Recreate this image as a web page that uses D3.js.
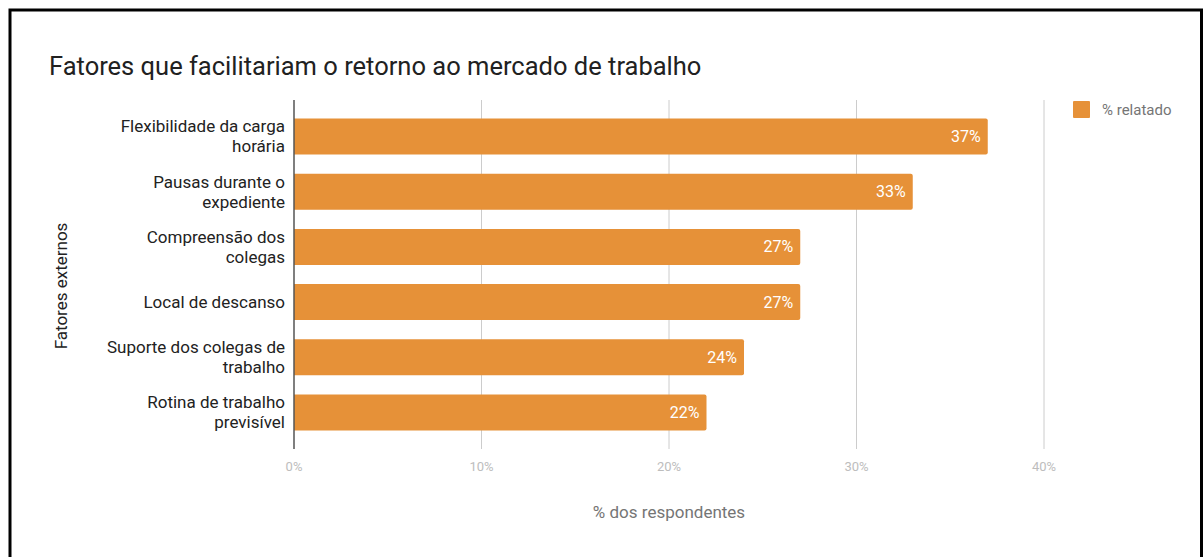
<!DOCTYPE html>
<html>
<head>
<meta charset="utf-8">
<script src="https://cdn.jsdelivr.net/npm/d3@7"></script>
<style>
  body { margin: 0; background: #fff; }
  text { font-family: Roboto, "Noto Sans", sans-serif; }
</style>
</head>
<body>
<svg id="chart"></svg>
<script>
const categories = [
  ["Flexibilidade da carga", "horária"],
  ["Pausas durante o", "expediente"],
  ["Compreensão dos", "colegas"],
  ["Local de descanso"],
  ["Suporte dos colegas de", "trabalho"],
  ["Rotina de trabalho", "previsível"]
];
const values = [37, 33, 27, 27, 24, 22];
const tickValues = [0, 10, 20, 30, 40];

const W = 1203, H = 557;
const svg = d3.select("#chart").attr("width", W).attr("height", H);

// frame
svg.append("path")
  .attr("d", "M10,557 L10,10 L1201.5,10 L1201.5,557")
  .attr("fill", "none")
  .attr("stroke", "#000")
  .attr("stroke-width", 3);

const x = d3.scaleLinear().domain([0, 40]).range([294, 1044]);
const y = d3.scaleBand()
  .domain(d3.range(categories.length))
  .range([100, 449])
  .paddingInner(0.348)
  .paddingOuter(0.335);

// title
svg.append("text")
  .attr("x", 49).attr("y", 75)
  .attr("fill", "#212121")
  .style("font-size", "25.5px")
  .text("Fatores que facilitariam o retorno ao mercado de trabalho");

// grid
svg.append("g").selectAll("line")
  .data(tickValues.slice(1))
  .join("line")
    .attr("x1", d => x(d)).attr("x2", d => x(d))
    .attr("y1", 100).attr("y2", 449)
    .attr("stroke", "#cccccc").attr("stroke-width", 1);

// bars
const bars = svg.append("g");
bars.selectAll("path")
  .data(values)
  .join("path")
    .attr("fill", "#e69138")
    .attr("d", (d, i) => {
      const x0 = x(0), x1 = x(d), y0 = y(i), h = y.bandwidth(), r = 2;
      return `M${x0},${y0} H${x1 - r} Q${x1},${y0} ${x1},${y0 + r} V${y0 + h - r} Q${x1},${y0 + h} ${x1 - r},${y0 + h} H${x0} Z`;
    });

bars.selectAll("text")
  .data(values)
  .join("text")
    .attr("x", d => x(d) - 7)
    .attr("y", (d, i) => y(i) + y.bandwidth() / 2)
    .attr("dy", "0.35em")
    .attr("text-anchor", "end")
    .attr("fill", "#fff")
    .style("font-size", "16px")
    .text(d => d + "%");

// axis line
svg.append("line")
  .attr("x1", x(0)).attr("x2", x(0))
  .attr("y1", 100).attr("y2", 449)
  .attr("stroke", "#555").attr("stroke-width", 1.5);

// x tick labels
svg.append("g").selectAll("text")
  .data(tickValues)
  .join("text")
    .attr("x", d => x(d))
    .attr("y", 471)
    .attr("text-anchor", "middle")
    .attr("fill", "#bdbdbd")
    .style("font-size", "13px")
    .text(d => d + "%");

// y category labels
const yl = svg.append("g").selectAll("text")
  .data(categories)
  .join("text")
    .attr("text-anchor", "end")
    .attr("fill", "#222")
    .style("font-size", "17px");
yl.each(function(lines, i) {
  const cy = y(i) + y.bandwidth() / 2;
  const n = lines.length;
  d3.select(this).selectAll("tspan")
    .data(lines)
    .join("tspan")
      .attr("x", 285)
      .attr("y", (l, j) => cy + (j - (n - 1) / 2) * 20)
      .attr("dy", "0.35em")
      .text(l => l);
});

// axis titles
svg.append("text")
  .attr("transform", "translate(67,286) rotate(-90)")
  .attr("text-anchor", "middle")
  .attr("fill", "#222")
  .style("font-size", "17px")
  .text("Fatores externos");

svg.append("text")
  .attr("x", 669).attr("y", 518)
  .attr("text-anchor", "middle")
  .attr("fill", "#757575")
  .style("font-size", "17px")
  .text("% dos respondentes");

// legend
svg.append("rect")
  .attr("x", 1073).attr("y", 101)
  .attr("width", 17).attr("height", 17)
  .attr("rx", 1)
  .attr("fill", "#e69138");
svg.append("text")
  .attr("x", 1102).attr("y", 110)
  .attr("dy", "0.35em")
  .attr("fill", "#757575")
  .style("font-size", "15px")
  .text("% relatado");
</script>
</body>
</html>
